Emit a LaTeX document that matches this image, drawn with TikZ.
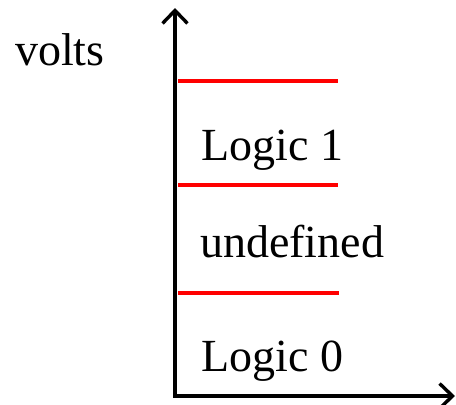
\documentclass[tikz,border=0pt]{standalone}
\usepackage{fontspec}
\setmainfont{Liberation Serif}
\usetikzlibrary{arrows.meta}

\begin{document}
\begin{tikzpicture}[x=1pt,y=-1pt,
  every node/.style={font=\fontsize{46}{50}\selectfont,inner sep=0pt,anchor=base west},
  axis/.style={line width=3.4pt,-{Straight Barb[length=13pt,width=25pt,line width=3.4pt]}},
  level/.style={red,line width=3.4pt}]
\useasboundingbox (0,0) rectangle (456,405);
\coordinate (o) at (175,396);
\coordinate (ytop) at (175,8);
\coordinate (xend) at (455,396);
\draw[axis] (o) -- (ytop);
\draw[axis] ([xshift=-1.7pt]o) -- (xend);
% threshold levels
\coordinate (h1) at (178,81);
\coordinate (h1e) at (338,81);
\coordinate (h2) at (178,185);
\coordinate (h2e) at (338,185);
\coordinate (h3) at (178,293);
\coordinate (h3e) at (339,293);
\draw[level] (h1)--(h1e);
\draw[level] (h2)--(h2e);
\draw[level] (h3)--(h3e);
\node (volts) at (15,65) {volts};
\node (one) at (201,160) {Logic 1};
\node (undef) at (200,257) {undefined};
\node (zero) at (201,371) {Logic 0};
\end{tikzpicture}
\end{document}
